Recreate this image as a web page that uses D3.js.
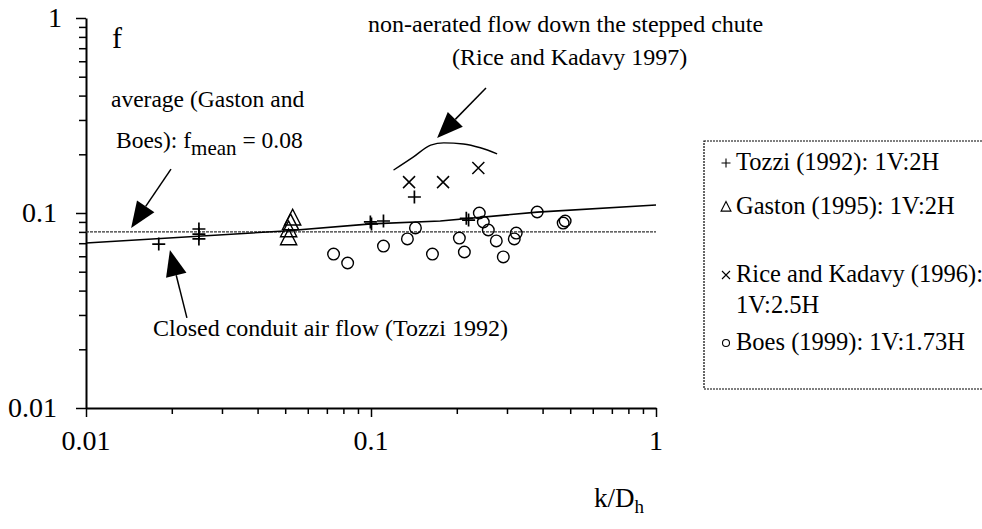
<!DOCTYPE html>
<html>
<head>
<meta charset="utf-8">
<script src="https://cdn.jsdelivr.net/npm/d3@7.9.0/dist/d3.min.js"></script>
<style>
  body { margin: 0; background: #fff; }
  svg text { font-family: "Liberation Serif", "Times New Roman", Times, "DejaVu Serif", serif; }
</style>
</head>
<body>
<svg id="chart" width="982" height="529"></svg>
<script>
// Tozzi (1992): 1V:2H
const tozziX = [0.018, 0.0249, 0.0249, 0.0249, 0.0995, 0.1004, 0.1106, 0.142, 0.216, 0.220];
const tozziF = [0.0693, 0.0828, 0.078, 0.0736, 0.090, 0.0878, 0.091, 0.1208, 0.094, 0.092];

// Gaston (1995): 1V:2H
const gastonX = [0.0531, 0.0522, 0.0514, 0.0514];
const gastonF = [0.094, 0.089, 0.0818, 0.0744];

// Rice and Kadavy (1996): 1V:2.5H
const riceX = [0.136, 0.179, 0.238];
const riceF = [0.144, 0.144, 0.170];

// Boes (1999): 1V:1.73H
const boesX = [0.0739, 0.0828, 0.1106, 0.1342, 0.1432, 0.1643, 0.2042, 0.2126, 0.2399, 0.2478,
               0.258, 0.2752, 0.2912, 0.3182, 0.3233, 0.383, 0.4724, 0.48];
const boesF = [0.0616, 0.0554, 0.0677, 0.0736, 0.0838, 0.0616, 0.0744, 0.0631, 0.1, 0.0899,
               0.0818, 0.0719, 0.0595, 0.0736, 0.0789, 0.1012, 0.0888, 0.091];

// closed conduit air flow (Tozzi 1992)
const closedX = [0.01, 0.0498, 0.1, 0.175, 0.383, 1];
const closedF = [0.0702, 0.0809, 0.0879, 0.091, 0.101, 0.11];

// non-aerated flow (Rice and Kadavy 1997)
const nonAerX = [0.12, 0.141, 0.162, 0.18, 0.211, 0.242, 0.277];
const nonAerF = [0.166, 0.194, 0.223, 0.229, 0.226, 0.216, 0.201];

const fMean = 0.08;
const xTickLabels = [0.01, 0.1, 1];
const yTickLabels = [0.01, 0.1, 1];

const FONT = '"Liberation Serif", "Times New Roman", serif';
const svg = d3.select("#chart");
const x = d3.scaleLog().domain([0.01, 1]).range([86, 656]);
const y = d3.scaleLog().domain([0.01, 1]).range([408, 18]);

// log ticks 1..9 per decade
let allTicks = [];
[0.01, 0.1].forEach(d => { for (let i = 1; i < 10; i++) allTicks.push(d * i); });
allTicks.push(1);
const isMajor = v => xTickLabels.some(t => Math.abs(t - v) / t < 1e-6);

// x axis
const xAxis = svg.append("g").attr("transform", "translate(0,408)")
  .call(d3.axisBottom(x).tickValues(allTicks).tickSizeInner(6).tickSizeOuter(0).tickFormat(""));
xAxis.select(".domain").attr("stroke-width", 2);
xAxis.selectAll(".tick line").attr("stroke-width", 1.5).attr("y2", d => isMajor(d) ? 9 : 6);

// y axis
const yAxis = svg.append("g").attr("transform", "translate(86,0)")
  .call(d3.axisLeft(y).tickValues(allTicks).tickSizeInner(7).tickSizeOuter(0).tickFormat(""));
yAxis.select(".domain").attr("stroke-width", 2);
yAxis.selectAll(".tick line").attr("stroke-width", 1.5).attr("x2", d => isMajor(d) ? -10 : -7);

const note = (tx, ty, t, size) => svg.append("text").attr("x", tx).attr("y", ty)
  .attr("font-family", FONT).attr("font-size", size || 24).attr("fill", "#000").text(t);

xTickLabels.forEach(v => note(x(v), 450, v, 28).attr("text-anchor", "middle"));
yTickLabels.forEach(v => note(v === 1 ? 62 : 57, y(v) + 9, v, 28).attr("text-anchor", "end"));

// mean line
svg.append("line")
  .attr("x1", x(0.01)).attr("x2", x(1)).attr("y1", y(fMean)).attr("y2", y(fMean))
  .attr("stroke", "#333").attr("stroke-width", 1.3).attr("stroke-dasharray", "3,1");

const line = d3.line().x(d => x(d[0])).y(d => y(d[1]));
svg.append("path").datum(d3.zip(closedX, closedF)).attr("d", line)
  .attr("fill", "none").attr("stroke", "#000").attr("stroke-width", 1.6);
svg.append("path").datum(d3.zip(nonAerX, nonAerF)).attr("d", line.curve(d3.curveMonotoneX))
  .attr("fill", "none").attr("stroke", "#000").attr("stroke-width", 1.4);

// markers
const sym = {
  plus: (g, s) => g.append("path").attr("d", `M${-s},0H${s}M0,${-s}V${s}`),
  cross: (g, s) => g.append("path").attr("d", `M${-s},${-s}L${s},${s}M${-s},${s}L${s},${-s}`),
  tri: (g, s) => g.append("path").attr("d", `M0,${-s}L${s * 0.9},${s * 0.75}L${-s * 0.9},${s * 0.75}Z`),
  circ: (g, s) => g.append("circle").attr("r", s)
};
function drawSeries(xs, fs, kind, s, sw) {
  xs.forEach((v, i) => {
    const g = svg.append("g").attr("transform", `translate(${x(v)},${y(fs[i])})`)
      .attr("fill", "none").attr("stroke", "#000").attr("stroke-width", sw);
    sym[kind](g, s);
  });
}
drawSeries(boesX, boesF, "circ", 5.8, 1.4);
drawSeries(gastonX, gastonF, "tri", 9, 1.4);
drawSeries(riceX, riceF, "cross", 6, 1.5);
drawSeries(tozziX, tozziF, "plus", 6.5, 1.7);

// arrows
function arrow(x0, y0, x1, y1) {
  const ax = x(x0), ay = y(y0), bx = x(x1), by = y(y1);
  const ang = Math.atan2(by - ay, bx - ax), len = 26, half = 10.5;
  const cx = bx - len * Math.cos(ang), cy = by - len * Math.sin(ang);
  svg.append("line").attr("x1", ax).attr("y1", ay).attr("x2", cx).attr("y2", cy)
    .attr("stroke", "#000").attr("stroke-width", 1.5);
  const px = -Math.sin(ang) * half, py = Math.cos(ang) * half;
  svg.append("path").attr("d", `M${bx},${by}L${cx + px},${cy + py}L${cx - px},${cy - py}Z`).attr("fill", "#000");
}
arrow(0.01987, 0.168, 0.0144, 0.0838);
arrow(0.0226, 0.029, 0.0197, 0.0646);
arrow(0.2532, 0.4377, 0.1706, 0.2425);

// annotation text
note(112, 48, "f", 30);
note(111, 107, "average (Gaston and", 23.5);
const b = note(116, 148, "Boes): f", 23.5);
b.append("tspan").attr("dy", 7).attr("font-size", 21).text("mean");
b.append("tspan").attr("dy", -7).text(" = 0.08");
note(368, 32, "non-aerated flow down the stepped chute");
note(452, 65, "(Rice and Kadavy 1997)");
note(153, 336, "Closed conduit air flow (Tozzi 1992)");
const k = note(594, 507, "k/D", 27);
k.append("tspan").attr("dy", 6).attr("font-size", 19).text("h");

// legend
svg.append("rect").attr("x", 704).attr("y", 141).attr("width", 300).attr("height", 248)
  .attr("fill", "none").attr("stroke", "#000").attr("stroke-width", 1.2).attr("stroke-dasharray", "2,1");
const legendRows = [
  { kind: "plus", s: 4.5, ty: 170, lines: ["Tozzi (1992): 1V:2H"] },
  { kind: "tri", s: 5.5, ty: 214, lines: ["Gaston (1995): 1V:2H"] },
  { kind: "cross", s: 4, ty: 282, lines: ["Rice and Kadavy (1996):", "1V:2.5H"] },
  { kind: "circ", s: 3.5, ty: 350, lines: ["Boes (1999): 1V:1.73H"] }
];
legendRows.forEach(r => {
  const g = svg.append("g").attr("transform", `translate(726,${r.ty - 7})`)
    .attr("fill", "none").attr("stroke", "#000").attr("stroke-width", 1.1);
  sym[r.kind](g, r.s);
  r.lines.forEach((t, i) => note(736, r.ty + i * 31, t, 24.5));
});
</script>
</body>
</html>
